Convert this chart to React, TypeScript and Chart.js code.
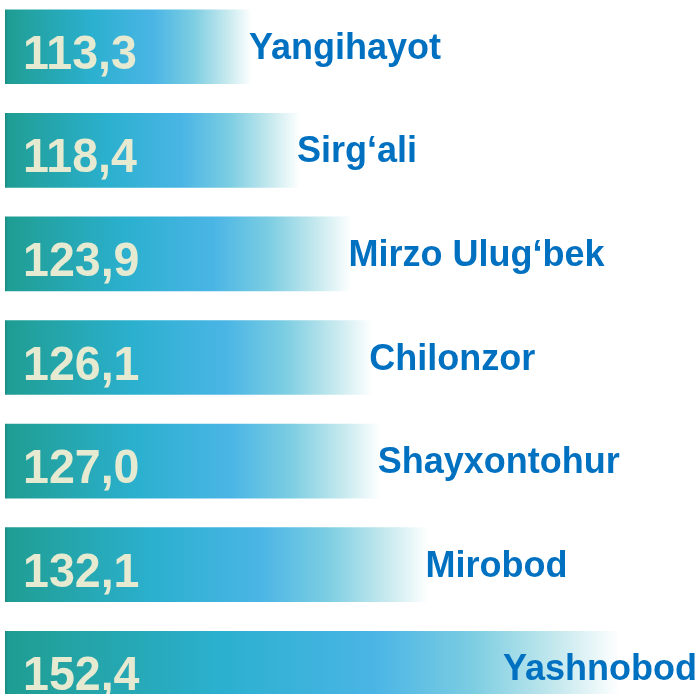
import React, { useEffect, useRef } from "react";
import { Chart, registerables } from "chart.js";

Chart.register(...registerables);

const categories = ["Yangihayot", "Sirg‘ali", "Mirzo Ulug‘bek", "Chilonzor", "Shayxontohur", "Mirobod", "Yashnobod"];
const values = [113.3, 118.4, 123.9, 126.1, 127.0, 132.1, 152.4];
const axisMin = 87;
const axisMax = 161;

const W = 700;
const H = 725;

const labelPlugin = {
  id: "barLabels",
  afterDatasetsDraw(chart: any) {
    const ctx = chart.ctx as CanvasRenderingContext2D;
    const meta = chart.getDatasetMeta(0);
    const xs = chart.scales.x;
    const base = xs.getPixelForValue(axisMin);
    meta.data.forEach((bar: any, i: number) => {
      const x = xs.getPixelForValue(values[i]);
      const y = bar.y;
      // value text
      const txt = values[i].toFixed(1).replace(".", ",");
      ctx.save();
      ctx.font = "bold 49px 'Liberation Sans', Arial, sans-serif";
      ctx.fillStyle = "#E6EAD0";
      ctx.textBaseline = "alphabetic";
      ctx.textAlign = "left";
      ctx.translate(base + 18, y + 22);
      ctx.scale(0.95, 1);
      ctx.fillText(txt, 0, 0);
      ctx.restore();
      // category label
      ctx.save();
      ctx.font = "bold 36px 'Liberation Sans', Arial, sans-serif";
      ctx.fillStyle = "#0070C0";
      ctx.textBaseline = "alphabetic";
      ctx.textAlign = "left";
      const w = ctx.measureText(categories[i]).width;
      const lx = Math.min(x - 3, W - 3 - w);
      ctx.fillText(categories[i], lx, y + 12);
      ctx.restore();
    });
  },
};

export default function App() {
  const ref = useRef<HTMLCanvasElement | null>(null);
  useEffect(() => {
    document.body.style.margin = "0";
    const canvas = ref.current!;
    const chart = new Chart(canvas, {
      type: "bar",
      data: {
        labels: categories,
        datasets: [
          {
            data: values,
            borderWidth: 0,
            barThickness: 74,
            backgroundColor: (c: any) => {
              const ch = c.chart;
              const area = ch.chartArea;
              if (!area || c.raw === undefined) return "#3AB4DD";
              const xs = ch.scales.x;
              const x0 = xs.getPixelForValue(axisMin);
              const x1 = xs.getPixelForValue(c.raw);
              const wdt = Math.max(1, x1 - x0);
              const g = ch.ctx.createLinearGradient(x0, 0, x1, 0);
              const s = Math.min(0.02, 3 / wdt);
              g.addColorStop(0, "#168B80");
              g.addColorStop(s, "#1E9D94");
              g.addColorStop(0.05, "#21A09A");
              g.addColorStop(0.35, "#2BB0CF");
              g.addColorStop(0.6, "#4AB5E5");
              g.addColorStop(0.76, "#7BCDE2");
              g.addColorStop(0.9, "#C6E9EE");
              g.addColorStop(1, "#FFFFFF");
              return g;
            },
          },
        ],
      },
      options: {
        indexAxis: "y",
        animation: false,
        responsive: false,
        devicePixelRatio: 1,
        layout: { padding: { left: 5, right: 0, top: 0, bottom: 0 } },
        plugins: { legend: { display: false }, tooltip: { enabled: false } },
        scales: {
          x: { min: axisMin, max: axisMax, display: false },
          y: { display: false },
        },
      },
      plugins: [labelPlugin],
    });
    return () => chart.destroy();
  }, []);
  return (
    <div style={{ position: "fixed", left: 0, top: -5, width: W, height: H, background: "#fff" }}>
      <canvas ref={ref} width={W} height={H} style={{ width: W, height: H, display: "block" }} />
    </div>
  );
}
